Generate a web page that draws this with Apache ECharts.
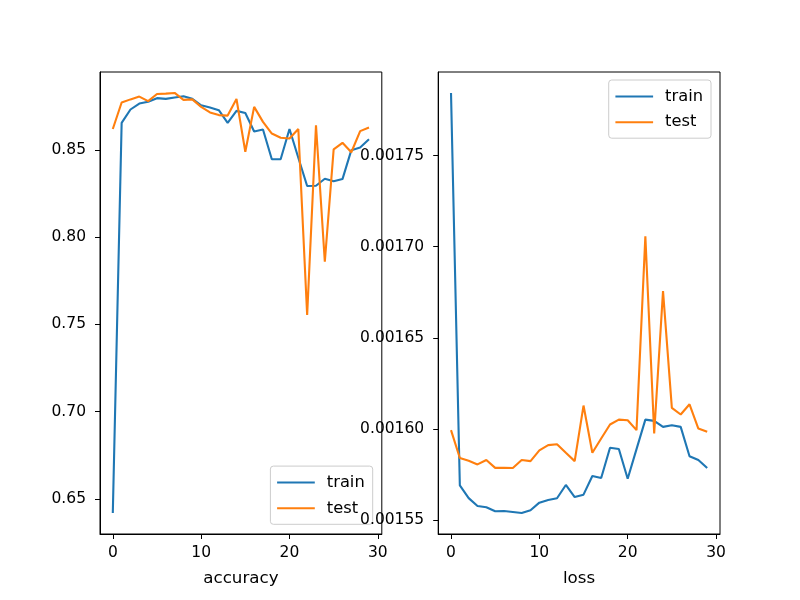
<!DOCTYPE html>
<html>
<head>
<meta charset="utf-8">
<script src="https://cdn.jsdelivr.net/npm/echarts@6/dist/echarts.min.js"></script>
<style>
html,body{margin:0;padding:0;background:#fff;}
#chart{width:800px;height:600px;}
</style>
</head>
<body>
<div id="chart"></div>
<script>
const epochs = [0,1,2,3,4,5,6,7,8,9,10,11,12,13,14,15,16,17,18,19,20,21,22,23,24,25,26,27,28,29];
const accTrain = [0.6418,0.8655,0.8732,0.8766,0.8776,0.8797,0.8793,0.8801,0.8808,0.8793,0.8756,0.8743,0.8728,0.8655,0.8724,0.8712,0.8606,0.8617,0.8447,0.8447,0.8620,0.8455,0.8293,0.8295,0.8335,0.8321,0.8333,0.8499,0.8514,0.8562];
const accTest = [0.8620,0.8772,0.8790,0.8806,0.8780,0.8821,0.8823,0.8827,0.8787,0.8790,0.8747,0.8715,0.8700,0.8697,0.8792,0.8490,0.8747,0.8661,0.8594,0.8570,0.8566,0.8620,0.7554,0.8642,0.7859,0.8503,0.8541,0.8487,0.8608,0.8629];
const lossTrain = [0.0017844,0.0015690,0.0015620,0.0015577,0.0015570,0.0015548,0.0015549,0.0015544,0.0015538,0.0015553,0.0015595,0.0015610,0.0015619,0.0015692,0.0015626,0.0015639,0.0015741,0.0015730,0.0015896,0.0015890,0.0015726,0.0015889,0.0016051,0.0016044,0.0016011,0.0016020,0.0016011,0.0015850,0.0015829,0.0015785];
const lossTest = [0.0015993,0.0015840,0.0015825,0.0015805,0.0015829,0.0015786,0.0015786,0.0015785,0.0015829,0.0015823,0.0015882,0.0015911,0.0015916,0.0015869,0.0015823,0.0016128,0.0015869,0.0015947,0.0016024,0.0016051,0.0016047,0.0015993,0.0017057,0.0015975,0.0016756,0.0016115,0.0016079,0.0016135,0.0016002,0.0015984];
const xTicks = [0,10,20,30];
const accTicks = [0.65,0.70,0.75,0.80,0.85];
const lossTicks = [0.00155,0.00160,0.00165,0.00170,0.00175];

const FONT = 'DejaVu Sans';
const BLUE = '#1f77b4', ORANGE = '#ff7f0e';
const pairs = (ys) => epochs.map((x, i) => [x, ys[i]]);

function xAxisCfg(grid, name) {
  return {
    type: 'value', gridIndex: grid, min: -1.45, max: 30.45,
    name: name, nameLocation: 'middle', nameGap: 36,
    nameTextStyle: {fontFamily: FONT, fontSize: 16.7, color: '#000'},
    axisLine: {show: true, onZero: false, lineStyle: {color: '#000', width: 1}},
    axisTick: {show: true, length: 5, inside: false, customValues: xTicks, lineStyle: {color: '#000', width: 1}},
    axisLabel: {show: true, customValues: xTicks, margin: 11, fontFamily: FONT, fontSize: 15.5, color: '#000'},
    splitLine: {show: false}
  };
}
function yAxisCfg(grid, min, max, ticks, dec, z) {
  return {
    type: 'value', gridIndex: grid, min: min, max: max, z: z,
    axisLine: {show: true, onZero: false, lineStyle: {color: '#000', width: 1}},
    axisTick: {show: true, length: 5, inside: false, customValues: ticks, lineStyle: {color: '#000', width: 1}},
    axisLabel: {show: true, customValues: ticks, margin: 14, fontFamily: FONT, fontSize: 15.5, color: '#000',
      formatter: (v) => v.toFixed(dec)},
    splitLine: {show: false}
  };
}
function lineSeries(name, color, xi, yi, ys) {
  return {
    type: 'line', name: name, xAxisIndex: xi, yAxisIndex: yi, data: pairs(ys),
    symbol: 'none', showSymbol: false, lineStyle: {color: color, width: 2.1}, itemStyle: {color: color},
    emphasis: {disabled: true}
  };
}
function legendCfg(pos) {
  return Object.assign({
    orient: 'vertical', data: ['train', 'test'], icon: 'rect', itemWidth: 37.7, itemHeight: 2, itemGap: 7.7,
    padding: [7.5, 8, 7, 6.7], backgroundColor: 'rgba(255,255,255,0.8)', borderColor: '#cccccc', borderWidth: 1, borderRadius: 3,
    textStyle: {fontFamily: FONT, fontSize: 16.3, color: '#000', lineHeight: 18, padding: [0, 0, 0, 7]},
    selectedMode: false
  }, pos);
}

const chart = echarts.init(document.getElementById('chart'), null, {renderer: 'canvas'});
chart.setOption({
  animation: false,
  backgroundColor: '#fff',
  grid: [
    {left: 100, top: 72, width: 281.8, height: 462, show: true, borderColor: '#000', borderWidth: 1, backgroundColor: 'transparent'},
    {left: 438.2, top: 72, width: 281.8, height: 462, show: true, borderColor: '#000', borderWidth: 1, backgroundColor: 'transparent'}
  ],
  xAxis: [xAxisCfg(0, 'accuracy'), xAxisCfg(1, 'loss')],
  yAxis: [yAxisCfg(0, 0.6298, 0.8947, accTicks, 2, 0), yAxisCfg(1, 0.0015423, 0.0017959, lossTicks, 5, 10)],
  legend: [
    legendCfg({right: 427.3, bottom: 75.7}),
    legendCfg({right: 89, top: 80})
  ],
  series: [
    lineSeries('train', BLUE, 0, 0, accTrain),
    lineSeries('test', ORANGE, 0, 0, accTest),
    lineSeries('train', BLUE, 1, 1, lossTrain),
    lineSeries('test', ORANGE, 1, 1, lossTest)
  ]
});
</script>
</body>
</html>
